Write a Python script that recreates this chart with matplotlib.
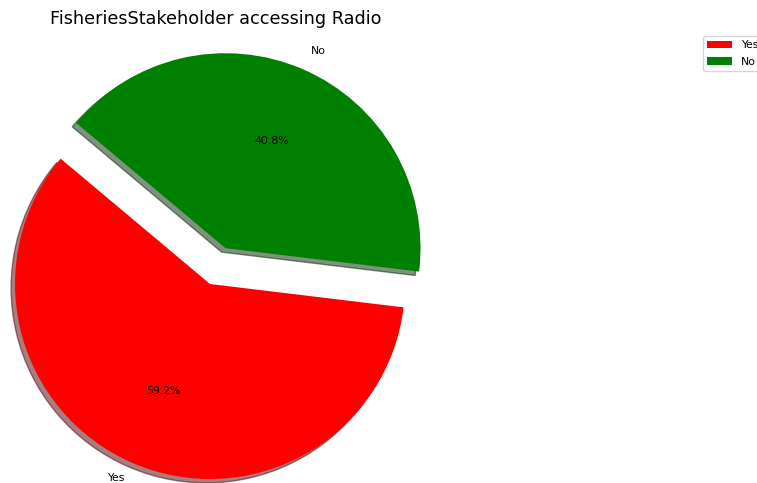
import matplotlib
matplotlib.use("Agg")
import matplotlib.pyplot as plt

labels = ['Yes', 'No']
sizes = [59.2, 40.8]
colors = ['red', 'green']
explode = (0, 0.2)

fig = plt.figure(figsize=(7.57, 4.83), dpi=100)
ax = fig.add_axes([0, 0, 1, 1])

# shadow offset is scaled by dpi/72, keep it thin
wedges, texts, autotexts = ax.pie(sizes, labels=labels, colors=colors, explode=explode,
                                  autopct='%1.1f%%', startangle=140,
                                  shadow={'ox': -0.0144, 'oy': -0.0144},
                                  textprops={'fontsize': 7.8})
ax.set_aspect('equal')
# radius 1 -> 195 px, pie centre at pixel (210, 284)
ax.set_xlim(-210 / 195, (757 - 210) / 195)
ax.set_ylim(-(483 - 284) / 195, 284 / 195)
ax.axis('off')

# keep the bottom label inside the canvas
x, y = texts[0].get_position()
texts[0].set_position((x, y + 0.015))

fig.text(216 / 757, 1 - 19 / 483, 'FisheriesStakeholder accessing Radio',
         fontsize=12.7, ha='center', va='center')
fig.legend(wedges, labels, loc='upper left', bbox_to_anchor=(703 / 757, 1 - 36 / 483),
           fontsize=7.8, borderaxespad=0, handlelength=2.3, borderpad=0.4,
           labelspacing=0.6)

fig.savefig('out.png', dpi=100)
